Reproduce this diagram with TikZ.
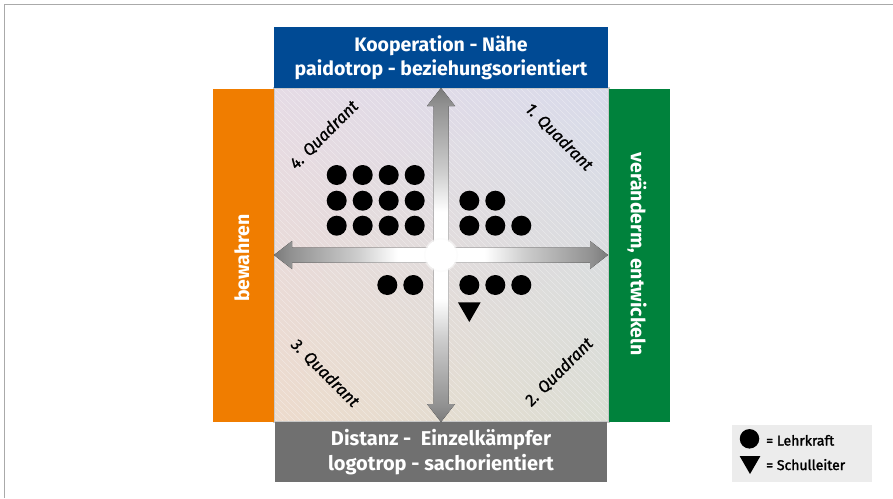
\documentclass[tikz,border=0pt]{standalone}
\usepackage{fontspec}
\setmainfont{Fira Sans}
\usetikzlibrary{shapes.geometric}
\definecolor{kblue}{RGB}{0,74,148}
\definecolor{korange}{RGB}{240,125,0}
\definecolor{kgreen}{RGB}{0,130,60}
\definecolor{kgray}{RGB}{112,112,112}
\definecolor{legbg}{RGB}{236,236,236}
\definecolor{framegray}{RGB}{170,170,170}
\definecolor{sqborder}{RGB}{200,200,200}
\definecolor{agA}{RGB}{122,122,122}
\definecolor{agB}{RGB}{145,145,145}
\definecolor{agC}{RGB}{205,205,205}
\pgfdeclarehorizontalshading{arrowshade}{100bp}{color(0bp)=(agA); color(25bp)=(agA); color(30bp)=(agB); color(50bp)=(agC); color(62bp)=(white); color(100bp)=(white)}
\pgfdeclarefunctionalshading{quadbg}{\pgfpointorigin}{\pgfpoint{100bp}{100bp}}{}{
25 sub 50 div exch 25 sub 50 div exch
2 copy mul
2 index -0.07 mul 2 index -0.03 mul add 1 index 0.02 mul add 0.93 add
3 index 0.01 mul 3 index 0.00 mul add 2 index -0.01 mul add 0.86 add
4 index 0.03 mul 4 index 0.10 mul add 3 index -0.01 mul add 0.80 add
6 3 roll pop pop pop
}
\tikzset{
  banner/.style={fill=#1, text=white, font=\bfseries\fontsize{19.5}{24}\selectfont, align=center, inner sep=0pt},
  sidetext/.style={text=white, font=\bfseries\fontsize{19.5}{24}\selectfont, inner sep=0pt},
  quadlabel/.style={font=\itshape\fontsize{16.5}{18}\selectfont\addfontfeature{FakeBold=1}, text=black, inner sep=0pt},
  dot/.style={circle, fill=black, minimum size=20pt, inner sep=0pt},
  tri/.style={regular polygon, regular polygon sides=3, shape border rotate=180, fill=black, inner sep=0pt, minimum size=#1},
  legtext/.style={font=\fontsize{14}{16}\selectfont\addfontfeature{FakeBold=1.8}, anchor=base west, inner sep=0pt},
  halfarrow/.style={shading=arrowshade, shading angle=#1, draw=none},
  hatch/.style={white, opacity=0.35, line width=0.6pt}
}
\begin{document}
\begin{tikzpicture}[x=1pt,y=-1pt]
\useasboundingbox (0,0) rectangle (893,498);
% outer frame
\draw[framegray, line width=1.5pt] (4.5,498) -- (4.5,4.5) -- (893,4.5);
% square background
\coordinate (sqTL) at (274,88);
\coordinate (sqBR) at (609,422);
\shade[shading=quadbg] (sqTL) rectangle (sqBR);
\begin{scope}
\clip (sqTL) rectangle (sqBR);
\foreach \i in {-336,-330,...,336} \draw[hatch] (274+\i,88) -- ++(334,334);
\end{scope}
\draw[sqborder, line width=2pt] (sqTL) rectangle (sqBR);
% banners
\node[banner=kblue, minimum width=334pt, minimum height=61pt] (top) at (441,57.5) {Kooperation - Nähe\\paidotrop - beziehungsorientiert};
\node[banner=kgray, minimum width=332pt, minimum height=60pt, font=\bfseries\fontsize{20}{25}\selectfont] (bot) at (441,452) {Distanz -\ \ Einzelkämpfer\\logotrop - sachorientiert};
\node[fill=korange, minimum width=61pt, minimum height=333pt, inner sep=0pt] (lft) at (243.5,255.5) {};
\node[sidetext, rotate=90] (lfttext) at (242,258) {bewahren};
\node[fill=kgreen, minimum width=61pt, minimum height=333pt, inner sep=0pt] (rgt) at (639.5,255.5) {};
\node[sidetext, rotate=-90] (rgttext) at (637,254) {veränderm, entwickeln};
% arrows
\coordinate (C) at (441,255);
\coordinate (tipL) at (274,255);
\coordinate (tipR) at (608,255);
\coordinate (tipT) at (441,88);
\coordinate (tipB) at (441,422);
\fill[halfarrow=0] (441,247.5) -- (292,247.5) -- (292,241) -- (tipL) -- (292,269) -- (292,262.5) -- (441,262.5) -- cycle;
\fill[halfarrow=180] (441,247.5) -- (590,247.5) -- (590,241) -- (tipR) -- (590,269) -- (590,262.5) -- (441,262.5) -- cycle;
\fill[halfarrow=-90] (433.5,255) -- (433.5,106) -- (427,106) -- (tipT) -- (455,106) -- (448.5,106) -- (448.5,255) -- cycle;
\fill[halfarrow=90] (433.5,255) -- (433.5,404) -- (427,404) -- (tipB) -- (455,404) -- (448.5,404) -- (448.5,255) -- cycle;
\node[circle, fill=white!96!gray, minimum size=34pt, inner sep=0pt, opacity=0.6] (glow) at (C) {};
\node[circle, fill=white, minimum size=31pt, inner sep=0pt] (ctr) at (C) {};
% quadrant labels
\node[quadlabel, rotate=-45] (q1) at (559,137) {1. Quadrant};
\node[quadlabel, rotate=45] (q2) at (559,372) {2. Quadrant};
\node[quadlabel, rotate=-45] (q3) at (325,373) {3. Quadrant};
\node[quadlabel, rotate=45] (q4) at (324,135) {4. Quadrant};
% dots quadrant 4
\foreach \r/\y in {1/175,2/200.7,3/225.7}
  \foreach \c/\x in {1/336.7,2/362.7,3/388.7,4/414.7}
    \node[dot] (d4-\r-\c) at (\x,\y) {};
% quadrant 1
\node[dot] (d1-1-1) at (469.3,200.7) {};
\node[dot] (d1-1-2) at (495.3,200.7) {};
\node[dot] (d1-2-1) at (469.3,225.7) {};
\node[dot] (d1-2-2) at (495.3,225.7) {};
\node[dot] (d1-2-3) at (521.3,225.7) {};
% quadrant 3
\node[dot] (d3-1) at (387.3,285) {};
\node[dot] (d3-2) at (413.3,285) {};
% quadrant 2
\node[dot] (d2-1) at (469.3,285) {};
\node[dot] (d2-2) at (495.3,285) {};
\node[dot] (d2-3) at (521.3,285) {};
\node[tri=26.2pt] (sl) at (469.3,308.9) {};
% legend
\node[fill=legbg, minimum width=140pt, minimum height=57pt, inner sep=0pt] (legend) at (802,453.5) {};
\node[dot, minimum size=19.5pt] (legdot) at (749.5,438.8) {};
\node[tri=24pt] (legtri) at (750,462) {};
\node[legtext] (leg1) at (766,445.5) {= Lehrkraft};
\node[legtext] (leg2) at (766,470) {= Schulleiter};
\end{tikzpicture}
\end{document}
